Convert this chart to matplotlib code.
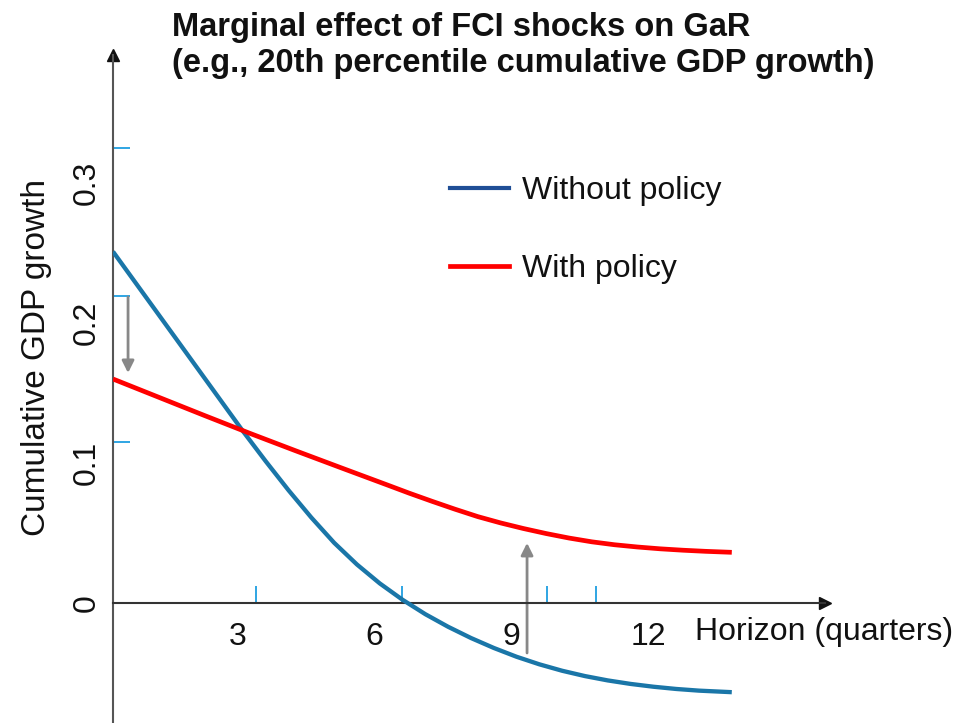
import matplotlib
matplotlib.use("Agg")
import matplotlib.pyplot as plt
from matplotlib.lines import Line2D
from matplotlib.transforms import ScaledTranslation

plt.rcParams['font.family'] = ['Liberation Sans', 'DejaVu Sans']

# ---- data ----
horizon_blue = [0, 1.4, 2.85, 3.35, 3.85, 4.35, 4.85, 5.35, 5.85, 6.35, 6.85, 7.35, 7.85, 8.35,
                8.85, 9.35, 9.85, 10.35, 10.85, 11.35, 11.85, 12.35, 12.85, 13.57]
without_policy = [0.251, 0.188, 0.1227, 0.1012, 0.0805, 0.0610, 0.0430, 0.0275, 0.0140, 0.0023,
                  -0.0080, -0.0170, -0.0250, -0.0321, -0.0384, -0.0438, -0.0484, -0.0522,
                  -0.0553, -0.0578, -0.0598, -0.0614, -0.0626, -0.0637]
horizon_red = [0, 1, 2, 3, 4, 5, 6, 6.5, 7, 7.5, 8, 8.5, 9, 9.5, 10, 10.5, 11, 11.5, 12, 12.5,
               13, 13.57]
with_policy = [0.160, 0.1470, 0.1340, 0.1212, 0.1088, 0.0966, 0.0845, 0.0784, 0.0726, 0.0670,
               0.0617, 0.0572, 0.0532, 0.0496, 0.0464, 0.0437, 0.0416, 0.0400, 0.0387, 0.0377,
               0.0369, 0.0362]

x_ticks = [3, 6, 9, 12]
x_ticklabels = ['3', '6', '9', '12']
y_ticks = [0, 0.1, 0.2, 0.3]
y_ticklabels = ['0', '0.1', '0.2', '0.3']
x_minor = [3.14, 6.34, 9.51, 10.6]
y_minor = [0.115, 0.2195, 0.3252]

title = "Marginal effect of FCI shocks on GaR\n(e.g., 20th percentile cumulative GDP growth)"
series_names = ["Without policy", "With policy"]

# arrows (x, y_start, y_end)
arrow_down = (0.33, 0.2186, 0.1643)
arrow_up = (9.08, -0.0357, 0.0429)

# ---- figure ----
W, H = 963, 723
fig = plt.figure(figsize=(W / 100, H / 100), dpi=100)
left_px, right_px, top_px, bot_px = 113, 825, 55, 722
ax = fig.add_axes([left_px / W, (H - bot_px) / H, (right_px - left_px) / W, (bot_px - top_px) / H])

xscale = 45.6   # px per quarter
yscale = 1400   # px per unit
ax.set_xlim(0, (right_px - left_px) / xscale)
ax.set_ylim((603 - bot_px) / yscale, (603 - top_px) / yscale)

blue = '#1a76a8'
red = '#ff0000'
ax.plot(horizon_blue, without_policy, color=blue, lw=3.1, solid_capstyle='butt',
        solid_joinstyle='round', zorder=3)
ax.plot(horizon_red, with_policy, color=red, lw=3.4, solid_capstyle='butt',
        solid_joinstyle='round', zorder=3)

# spines
for s in ['top', 'right']:
    ax.spines[s].set_visible(False)
ax.spines['left'].set_position(('data', 0))
ax.spines['left'].set_color('#555555')
ax.spines['left'].set_linewidth(1.5)
ax.spines['bottom'].set_position(('data', 0))
ax.spines['bottom'].set_color('#333333')
ax.spines['bottom'].set_linewidth(1.5)

# axis arrowheads
ax.plot(1, 0, marker='>', color='#111111', markersize=9, transform=ax.get_yaxis_transform(), clip_on=False)
ax.plot(0, 1, marker='^', color='#111111', markersize=9, transform=ax.get_xaxis_transform(), clip_on=False)

# ticks
ax.set_xticks(x_ticks)
ax.set_xticklabels(x_ticklabels)
ax.set_yticks(y_ticks)
ax.set_yticklabels(y_ticklabels, rotation=90, va='center')
ax.set_xticks(x_minor, minor=True)
ax.set_yticks(y_minor, minor=True)
ax.tick_params(axis='both', which='major', length=0, labelsize=23, colors='#111111')
ax.tick_params(axis='x', which='major', pad=14)
ax.tick_params(axis='y', which='major', pad=8)
ax.tick_params(axis='both', which='minor', direction='in', length=12, width=1.3, color='#1f9ee0')
for lab in ax.get_xticklabels():
    lab.set_transform(lab.get_transform() + ScaledTranslation(-12 / 100, 0, fig.dpi_scale_trans))

# axis labels
ax.text(12.76, -0.0207, "Horizon (quarters)", fontsize=23, ha='left', va='center', color='#111111')
ax.text(-76 / (right_px - left_px), (bot_px - 357) / (bot_px - top_px), "Cumulative GDP growth",
        transform=ax.transAxes, rotation=90, ha='center', va='center', fontsize=24, color='#111111')

# gray arrows
for (xa, y0, y1) in [arrow_down, arrow_up]:
    ax.annotate('', xy=(xa, y1), xytext=(xa, y0),
                arrowprops=dict(arrowstyle='-|>', color='#888888', lw=2.0, mutation_scale=18,
                                shrinkA=0, shrinkB=0), zorder=2)

# legend
handles = [Line2D([], [], color='#1f4e96', lw=3.0), Line2D([], [], color=red, lw=3.4)]
leg = ax.legend(handles, series_names, loc='upper left',
                bbox_to_anchor=((448 - left_px + 2) / (right_px - left_px), (bot_px - 176) / (bot_px - top_px)),
                frameon=False, fontsize=23, handlelength=1.85, handletextpad=0.4, labelspacing=1.5,
                borderpad=0, borderaxespad=0)
for t in leg.get_texts():
    t.set_color('#111111')

# title
fig.text(172 / W, 1 - 12 / H, title, ha='left', va='top', fontsize=23.5, fontweight='bold',
         color='#111111', linespacing=1.22)

fig.savefig('out.png', dpi=100, facecolor='white')
